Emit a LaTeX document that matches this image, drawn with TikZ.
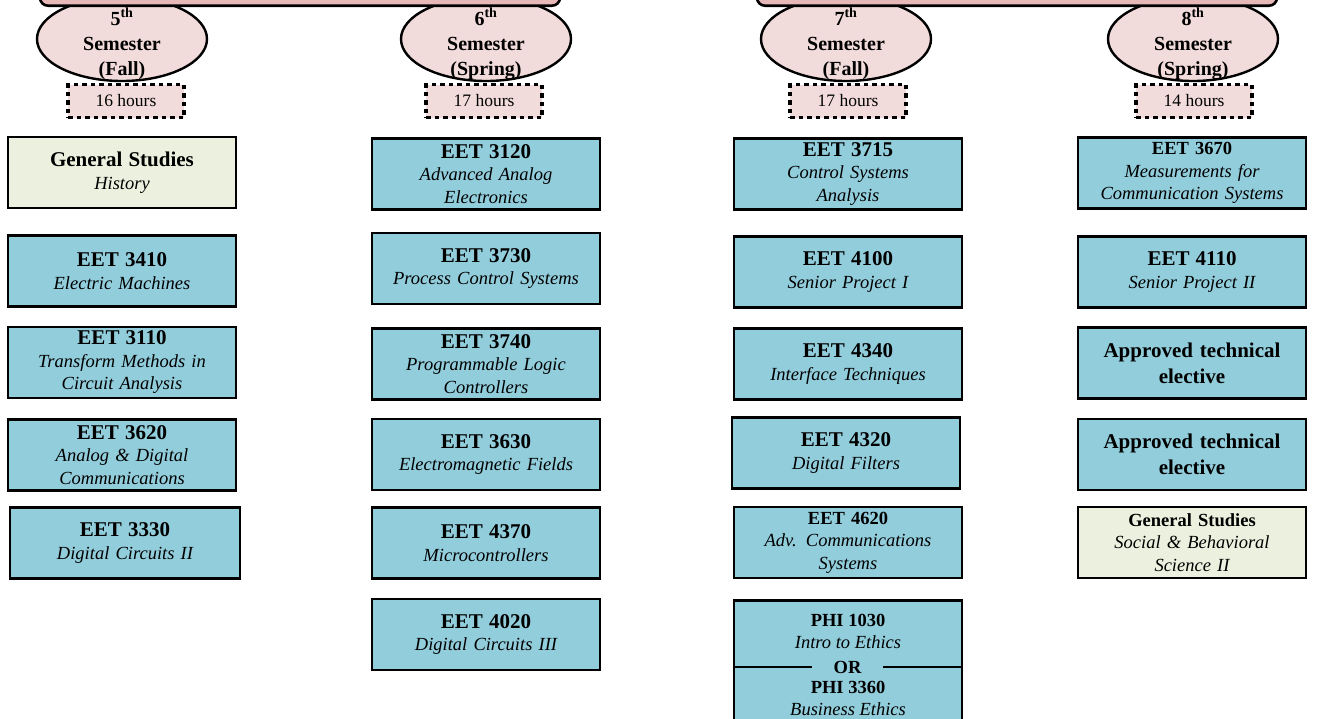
\documentclass[tikz,border=0pt]{standalone}
\usepackage{fontspec}
\setmainfont{Liberation Serif}
\usetikzlibrary{shapes.geometric}

\definecolor{courseblue}{HTML}{92CDDC}
\definecolor{genstudy}{HTML}{EBF1DE}
\definecolor{sempink}{HTML}{F2DCDB}
\definecolor{bannerpink}{HTML}{E6B9B8}

\newcommand{\ctitle}[1]{{\fontsize{21}{23}\selectfont\bfseries #1}}
\newcommand{\csmall}[1]{{\bfseries #1}}
\newcommand{\csub}[1]{{\itshape #1}}

\tikzset{
  course/.style={draw, line width=2.6pt, fill=courseblue, minimum width=228pt,
    minimum height=71pt, text width=224pt, align=center, inner sep=0pt,
    font=\fontsize{18.5}{22.5}\selectfont},
  gened/.style={course, fill=genstudy},
  elective/.style={course, font=\fontsize{21}{26}\selectfont\bfseries},
  semoval/.style={ellipse, draw, line width=2.4pt, fill=sempink,
    minimum width=170pt, minimum height=84pt, inner sep=0pt},
  semtext/.style={align=center, inner sep=0pt, font=\fontsize{20}{25}\selectfont\bfseries},
  hoursbox/.style={draw, line width=3.8pt, dash pattern=on 4.5pt off 4pt, fill=sempink,
    minimum width=116pt, minimum height=33pt, inner sep=0pt, font=\fontsize{17.5}{19}\selectfont},
  banner/.style={draw, line width=2.6pt, fill=bannerpink, rounded corners=8pt,
    minimum height=40pt, anchor=south, inner sep=0pt},
  sepline/.style={line width=2.6pt},
}

\begin{document}
\begin{tikzpicture}[x=1pt,y=-1pt]
  \useasboundingbox (0,0) rectangle (1319,718);
  \clip (0,0) rectangle (1319,718);

  % semester ovals
  \node[semoval] (sem5) at (122,39) {};
  \node[semoval] (sem6) at (486,39) {};
  \node[semoval] (sem7) at (846,39) {};
  \node[semoval] (sem8) at (1193,39) {};

  % year banners, cut by the top edge
  \node[banner, minimum width=520pt] (yearthree) at (300,7) {};
  \node[banner, minimum width=520pt] (yearfour) at (1017,7) {};

  \node[semtext] at (122,44) {5\textsuperscript{th}\\Semester\\(Fall)};
  \node[semtext] at (486,44) {6\textsuperscript{th}\\Semester\\(Spring)};
  \node[semtext] at (846,44) {7\textsuperscript{th}\\Semester\\(Fall)};
  \node[semtext] at (1193,44) {8\textsuperscript{th}\\Semester\\(Spring)};

  % credit hours
  \node[hoursbox] (hrs5) at (126,101) {16 hours};
  \node[hoursbox] (hrs6) at (484,101) {17 hours};
  \node[hoursbox] (hrs7) at (848,101) {17 hours};
  \node[hoursbox] (hrs8) at (1194,101) {14 hours};

  % 5th semester
  \node[gened] (hist) at (122,172.5) {\ctitle{General Studies}\\\csub{History}};
  \node[course] (eet3410) at (122,271) {\ctitle{EET 3410}\\\csub{Electric Machines}};
  \node[course] (eet3110) at (122,362.5) {\ctitle{EET 3110}\\\csub{Transform Methods in}\\\csub{Circuit Analysis}};
  \node[course] (eet3620) at (122,455) {\ctitle{EET 3620}\\\csub{Analog \& Digital}\\\csub{Communications}};
  \node[course, minimum width=230pt] (eet3330) at (125,543) {\ctitle{EET 3330}\\\csub{Digital Circuits II}};

  % 6th semester
  \node[course] (eet3120) at (486,174) {\ctitle{EET 3120}\\\csub{Advanced Analog}\\\csub{Electronics}};
  \node[course] (eet3730) at (486,268.5) {\ctitle{EET 3730}\\\csub{Process Control Systems}};
  \node[course] (eet3740) at (486,364) {\ctitle{EET 3740}\\\csub{Programmable Logic}\\\csub{Controllers}};
  \node[course] (eet3630) at (486,454.5) {\ctitle{EET 3630}\\\csub{Electromagnetic Fields}};
  \node[course] (eet4370) at (486,543) {\ctitle{EET 4370}\\\csub{Microcontrollers}};
  \node[course] (eet4020) at (486,634.5) {\ctitle{EET 4020}\\\csub{Digital Circuits III}};

  % 7th semester
  \node[course] (eet3715) at (848,174) {\ctitle{EET 3715}\\\csub{Control Systems}\\\csub{Analysis}};
  \node[course] (eet4100) at (848,272) {\ctitle{EET 4100}\\\csub{Senior Project I}};
  \node[course] (eet4340) at (848,364) {\ctitle{EET 4340}\\\csub{Interface Techniques}};
  \node[course] (eet4320) at (846,453) {\ctitle{EET 4320}\\\csub{Digital Filters}};
  \node[course] (eet4620) at (848,542.5) {\csmall{EET 4620}\\\csub{Adv. Communications}\\\csub{Systems}};
  \node[course, minimum height=150pt, anchor=north] (phi) at (848,599) {};
  \node[align=center, inner sep=0pt, font=\fontsize{18.5}{22}\selectfont] (phia) at (848,631) {\csmall{PHI 1030}\\\csub{Intro to Ethics}};
  \node[minimum width=71pt, inner sep=0pt, font=\fontsize{18.5}{22}\selectfont\bfseries] (phior) at (847.5,667) {OR};
  \node[align=center, inner sep=0pt, font=\fontsize{18.5}{22}\selectfont] (phib) at (848,698) {\csmall{PHI 3360}\\\csub{Business Ethics}};
  \draw[sepline] (phi.west |- phior) -- (phior.west);
  \draw[sepline] (phior.east) -- (phi.east |- phior);

  % 8th semester
  \node[course] (eet3670) at (1192,173) {\csmall{EET 3670}\\\csub{Measurements for}\\\csub{Communication Systems}};
  \node[course] (eet4110) at (1192,272) {\ctitle{EET 4110}\\\csub{Senior Project II}};
  \node[elective] (elecone) at (1192,363) {Approved technical\\elective};
  \node[elective] (electwo) at (1192,454.5) {Approved technical\\elective};
  \node[gened] (socsci) at (1192,542.5) {\csmall{General Studies}\\\csub{Social \& Behavioral}\\\csub{Science II}};
\end{tikzpicture}
\end{document}
